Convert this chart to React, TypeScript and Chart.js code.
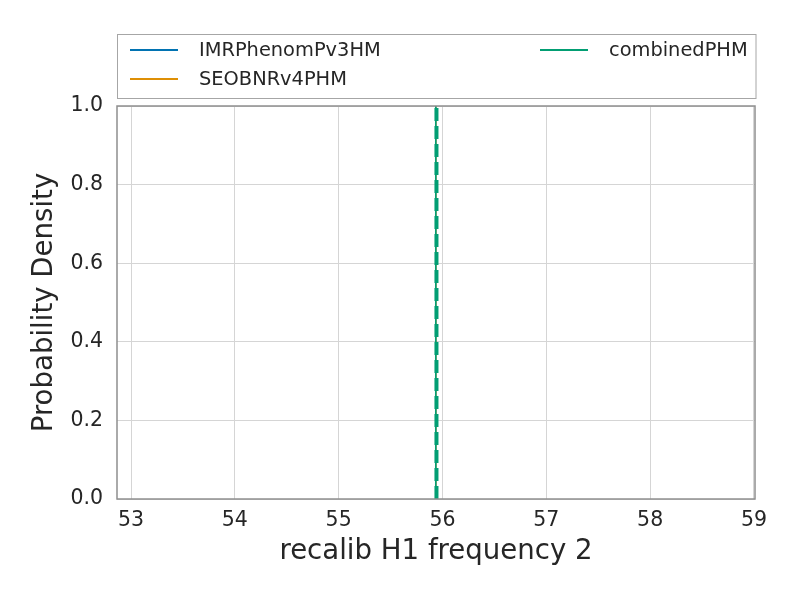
import React, { useEffect, useRef } from "react";
import { Chart, registerables } from "chart.js";

Chart.register(...registerables);

// ---- data ----
const seriesNames = ["IMRPhenomPv3HM", "SEOBNRv4PHM", "combinedPHM"];
const seriesColors = ["#0173B2", "#DE8F05", "#029E73"];
const seriesPeakX = [55.935, 55.935, 55.935];
const densityRange = [0, 1];
const combinedMarkerX = 55.942;
const xTicks = [53, 54, 55, 56, 57, 58, 59];
const yTicks = [0, 0.2, 0.4, 0.6, 0.8, 1.0];
const xRange = [52.865, 59.01];
const xTitle = "recalib H1 frequency 2";
const yTitle = "Probability Density";

const TEXT = "#262626";
const FONT = "'DejaVu Sans', sans-serif";

const framePlugin = {
  id: "frameAndLegend",
  afterDraw(chart: any) {
    const { ctx, chartArea } = chart;
    ctx.save();
    // axes frame
    ctx.strokeStyle = "#8f8f8f";
    ctx.lineWidth = 1.5;
    ctx.strokeRect(
      chartArea.left,
      chartArea.top,
      chartArea.right - chartArea.left,
      chartArea.bottom - chartArea.top
    );
    // legend
    ctx.strokeStyle = "#a6a6a6";
    ctx.lineWidth = 1;
    ctx.strokeRect(117.5, 34.5, 638.5, 64);
    const entries = [
      { x: 130, y: 50 },
      { x: 130, y: 79 },
      { x: 540, y: 50 },
    ];
    ctx.font = `19.4px ${FONT}`;
    ctx.textBaseline = "middle";
    ctx.textAlign = "left";
    seriesNames.forEach((name, i) => {
      const e = entries[i];
      ctx.strokeStyle = seriesColors[i];
      ctx.lineWidth = 2.2;
      ctx.beginPath();
      ctx.moveTo(e.x, e.y);
      ctx.lineTo(e.x + 48, e.y);
      ctx.stroke();
      ctx.fillStyle = TEXT;
      ctx.fillText(name, e.x + 69, e.y + 1);
    });
    ctx.restore();
  },
};

export default function App() {
  const ref = useRef<HTMLCanvasElement | null>(null);

  useEffect(() => {
    if (!ref.current) return;
    const datasets: any[] = seriesNames.map((name, i) => ({
      label: name,
      data: [
        { x: seriesPeakX[i], y: densityRange[0] },
        { x: seriesPeakX[i], y: densityRange[1] },
      ],
      borderColor: seriesColors[i],
      borderWidth: 1.5,
      pointRadius: 0,
      fill: false,
      order: seriesNames.length - i,
    }));
    datasets.push({
      label: "combined marker",
      data: [
        { x: combinedMarkerX, y: densityRange[0] },
        { x: combinedMarkerX, y: densityRange[1] },
      ],
      borderColor: seriesColors[2],
      borderWidth: 4,
      borderDash: [13, 5],
      pointRadius: 0,
      fill: false,
      order: 0,
    });

    const chart = new Chart(ref.current, {
      type: "line",
      data: { datasets },
      plugins: [framePlugin],
      options: {
        animation: false,
        responsive: false,
        maintainAspectRatio: false,
        layout: { padding: { top: 106, right: 45, left: 0, bottom: 0 } },
        plugins: {
          legend: { display: false },
          tooltip: { enabled: false },
        },
        scales: {
          x: {
            type: "linear",
            min: xRange[0],
            max: xRange[1],
            afterBuildTicks: (s: any) => {
              s.ticks = xTicks.map((v) => ({ value: v }));
            },
            afterFit: (s: any) => {
              s.height = 101;
            },
            ticks: {
              autoSkip: false,
              maxRotation: 0,
              padding: 9,
              color: TEXT,
              font: { family: FONT, size: 20.5 },
              callback: (v: any) => String(v),
            },
            grid: { color: "#d5d5d5", lineWidth: 1, drawTicks: false },
            border: { display: false },
            title: {
              display: true,
              text: xTitle,
              color: TEXT,
              font: { family: FONT, size: 27.6 },
              padding: { top: 0, bottom: 32 },
            },
          },
          y: {
            min: yTicks[0],
            max: yTicks[yTicks.length - 1],
            afterBuildTicks: (s: any) => {
              s.ticks = yTicks.map((v) => ({ value: v }));
            },
            afterFit: (s: any) => {
              s.width = 117;
            },
            ticks: {
              padding: 14,
              color: TEXT,
              font: { family: FONT, size: 20.5 },
              callback: (v: any) => Number(v).toFixed(1),
            },
            grid: { color: "#d5d5d5", lineWidth: 1, drawTicks: false },
            border: { display: false },
            title: {
              display: true,
              text: yTitle,
              color: TEXT,
              font: { family: FONT, size: 27.6 },
              padding: { top: 28, bottom: 0 },
            },
          },
        },
      },
    });
    return () => chart.destroy();
  }, []);

  return (
    <div style={{ position: "absolute", left: 0, top: 0, width: 800, height: 600 }}>
      <canvas ref={ref} width={800} height={600} style={{ width: 800, height: 600 }} />
    </div>
  );
}
